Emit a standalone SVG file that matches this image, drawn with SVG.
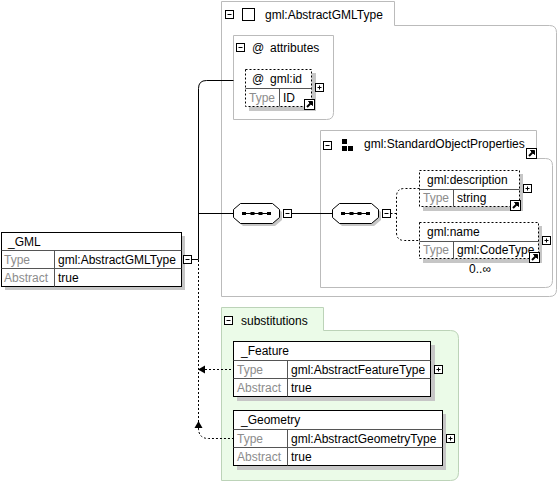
<svg xmlns="http://www.w3.org/2000/svg" xmlns:xlink="http://www.w3.org/1999/xlink" width="559" height="482" viewBox="0 0 559 482">
<style>
text{font-family:"Liberation Sans",Arial,sans-serif;font-size:12px;fill:#000}
.lbl{fill:#8c8c8c}
.frame{fill:#fff;stroke:#bbb;stroke-width:1}
.subs{fill:#ebfbe8;stroke:#bcd3b8;stroke-width:1}
.sh{fill:#c6c6c6}
.box{fill:#fff;stroke:#000;stroke-width:1}
.dbox{fill:#fff;stroke:#000;stroke-width:1;stroke-dasharray:2,2}
.div{stroke:#555;stroke-width:1;fill:none}
.ln{stroke:#000;stroke-width:1;fill:none}
.dl{stroke:#000;stroke-width:1;fill:none;stroke-dasharray:2,2}
</style>
<defs>
<g id="mi"><rect x="0.5" y="0.5" width="8" height="8" fill="#fff" stroke="#000"/><path d="M2.5,4.5H6.5" stroke="#000"/></g>
<g id="pl"><rect x="0.5" y="0.5" width="8" height="8" fill="#fff" stroke="#000"/><path d="M2.5,4.5H6.5M4.5,2.5V6.5" stroke="#000"/></g>
<g id="lk"><rect x="0.5" y="0.5" width="10" height="10" fill="#fff" stroke="#000"/><path d="M3,8L7,4" stroke="#000" stroke-width="2"/><polygon points="4.5,2.5 8.5,2.5 8.5,6.5" fill="#000" stroke="#000"/></g>
<g id="seq"><polygon points="10,3 42,3 49,9 49,17 42,23 10,23 3,17 3,9" class="sh"/><polygon points="7.5,0.5 39.5,0.5 46.5,6.5 46.5,14.5 39.5,20.5 7.5,20.5 0.5,14.5 0.5,6.5" class="box"/><path d="M10,10.5H38" class="ln"/><rect x="9" y="9" width="4" height="3"/><rect x="17.5" y="9" width="4" height="3"/><rect x="25.5" y="9" width="4" height="3"/><rect x="34" y="9" width="4" height="3"/></g>
</defs>

<g id="complexType">
<path class="frame" d="M221.5,296.5V1.5H394.5V25.5H549.5Q556.5,25.5 556.5,32.5V289.5Q556.5,296.5 549.5,296.5Z"/>
<use xlink:href="#mi" x="225" y="10"/>
<rect x="242.5" y="8.5" width="12" height="12" fill="#fff" stroke="#000"/>
<text x="265" y="19">gml:AbstractGMLType</text>
</g>

<g id="attributes">
<path class="frame" d="M233.5,119.5V35.5H333.5V112.5Q333.5,119.5 326.5,119.5Z"/>
<use xlink:href="#mi" x="236" y="43"/>
<text x="252" y="52">@</text>
<text x="270" y="52">attributes</text>
</g>

<g id="gml-id">
<rect class="sh" x="249" y="73" width="67" height="38"/>
<rect class="dbox" x="245.5" y="69.5" width="66" height="37"/>
<path class="div" d="M245.5,88.5H311.5M279.5,88.5V106.5"/>
<text x="252" y="83">@</text>
<text x="270" y="83">gml:id</text>
<text class="lbl" x="249" y="102">Type</text>
<text x="283" y="102">ID</text>
<use xlink:href="#pl" x="315" y="83"/>
<use xlink:href="#lk" x="304" y="99"/>
</g>

<g id="standardObjectProperties">
<path class="frame" d="M320.5,287.5V130.5H536.5V158.5H545.5Q552.5,158.5 552.5,165.5V280.5Q552.5,287.5 545.5,287.5Z"/>
<use xlink:href="#mi" x="323" y="141"/>
<rect x="342" y="139" width="5" height="5"/>
<rect x="342" y="146" width="5" height="5"/>
<rect x="348" y="146" width="5" height="5"/>
<text x="364" y="148">gml:StandardObjectProperties</text>
<use xlink:href="#lk" x="526" y="148"/>
</g>

<g id="sequence1">
<use xlink:href="#seq" x="233" y="203"/>
<use xlink:href="#mi" x="283" y="209"/>
</g>

<g id="sequence2">
<use xlink:href="#seq" x="332" y="203"/>
<use xlink:href="#mi" x="382" y="209"/>
</g>

<g id="gml-description">
<rect class="sh" x="423" y="174" width="100" height="37"/>
<rect class="dbox" x="419.5" y="170.5" width="100" height="36"/>
<path class="div" d="M419.5,189.5H519.5M453.5,189.5V206.5"/>
<text x="427" y="184">gml:description</text>
<text class="lbl" x="423" y="202">Type</text>
<text x="457" y="202">string</text>
<use xlink:href="#pl" x="523" y="184"/>
<use xlink:href="#lk" x="510" y="200"/>
</g>

<g id="gml-name">
<rect class="sh" x="423" y="226" width="119" height="37"/>
<rect class="dbox" x="419.5" y="222.5" width="119" height="36"/>
<path class="div" d="M419.5,241.5H538.5M453.5,241.5V258.5"/>
<text x="427" y="236">gml:name</text>
<text class="lbl" x="423" y="254">Type</text>
<text x="457" y="254">gml:CodeType</text>
<use xlink:href="#pl" x="542" y="236"/>
<use xlink:href="#lk" x="529" y="252"/>
<text x="480" y="273" text-anchor="middle">0..∞</text>
</g>

<g id="GML">
<rect class="sh" x="5" y="236" width="180" height="54"/>
<rect class="box" x="1.5" y="232.5" width="180" height="54"/>
<path class="div" d="M1.5,250.5H181.5M1.5,268.5H181.5M54.5,250.5V286.5"/>
<text x="8" y="246">_GML</text>
<text class="lbl" x="4" y="264">Type</text>
<text x="58" y="264">gml:AbstractGMLType</text>
<text class="lbl" x="4" y="282">Abstract</text>
<text x="58" y="282">true</text>
<use xlink:href="#mi" x="183" y="255"/>
</g>

<g id="substitutions">
<path class="subs" d="M221.5,480.5V307.5H323.5V330.5H450.5Q458.5,330.5 458.5,338.5V472.5Q458.5,480.5 450.5,480.5Z"/>
<use xlink:href="#mi" x="224" y="316"/>
<text x="241" y="325">substitutions</text>
</g>

<g id="Feature">
<rect class="sh" x="237" y="345" width="198" height="56"/>
<rect class="box" x="233.5" y="341.5" width="197" height="55"/>
<path class="div" d="M233.5,360.5H430.5M233.5,378.5H430.5M287.5,360.5V396.5"/>
<text x="241" y="355">_Feature</text>
<text class="lbl" x="237" y="374">Type</text>
<text x="291" y="374">gml:AbstractFeatureType</text>
<text class="lbl" x="237" y="392">Abstract</text>
<text x="291" y="392">true</text>
<use xlink:href="#pl" x="434" y="365"/>
</g>

<g id="Geometry">
<rect class="sh" x="237" y="414" width="209" height="56"/>
<rect class="box" x="233.5" y="410.5" width="209" height="55"/>
<path class="div" d="M233.5,429.5H442.5M233.5,447.5H442.5M287.5,429.5V465.5"/>
<text x="241" y="424">_Geometry</text>
<text class="lbl" x="237" y="443">Type</text>
<text x="291" y="443">gml:AbstractGeometryType</text>
<text class="lbl" x="237" y="461">Abstract</text>
<text x="291" y="461">true</text>
<use xlink:href="#pl" x="446" y="434"/>
</g>

<g id="connectors">
<path class="ln" d="M191.5,259.5H198.5V88.5Q198.5,80.5 206.5,80.5H233.5"/>
<path class="ln" d="M198.5,213.5H233.5"/>
<path class="ln" d="M291.5,213.5H332.5"/>
<path class="dl" d="M390.5,213.5H396.5"/>
<path class="dl" d="M419.5,188.5H404.5Q396.5,188.5 396.5,196.5V232.5Q396.5,240.5 404.5,240.5H419.5"/>
<path class="dl" d="M198.5,260V422"/>
<path class="dl" d="M205,369.5H233.5"/>
<polygon points="198,369.5 205,365.5 205,373.5" fill="#000"/>
<path class="dl" d="M198.5,428Q198.5,438.5 208.5,438.5H233.5"/>
<polygon points="198.5,421 194.5,428 202.5,428" fill="#000"/>
</g>
</svg>
